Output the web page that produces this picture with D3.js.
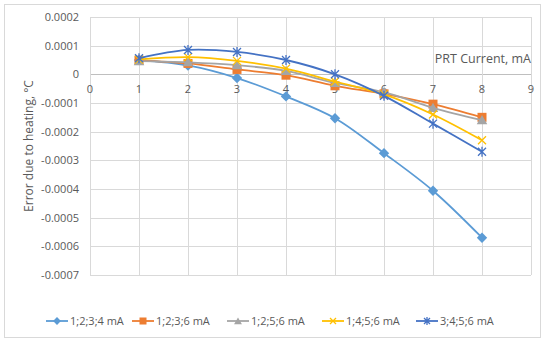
<!DOCTYPE html>
<html lang="en">
<head>
<meta charset="UTF-8">
<title>Error due to heating</title>
<script src="https://d3js.org/d3.v7.min.js"></script>
<style>
  body { margin: 0; background: #fff; }
  svg { font-family: "Open Sans", "Noto Sans", sans-serif; }
</style>
</head>
<body>
<svg id="chart" width="550" height="342"></svg>
<script>
// chart data
var currents = [1, 2, 3, 4, 5, 6, 7, 8];
var seriesNames = ["1;2;3;4 mA", "1;2;3;6 mA", "1;2;5;6 mA", "1;4;5;6 mA", "3;4;5;6 mA"];
var s1234 = [0.000050, 0.000031, -0.000013, -0.000077, -0.000153, -0.000275, -0.000406, -0.000570];
var s1236 = [0.000049, 0.000038, 0.000017, -0.000003, -0.000040, -0.000068, -0.000104, -0.000150];
var s1256 = [0.000046, 0.000042, 0.000032, 0.000012, -0.000030, -0.000062, -0.000117, -0.000160];
var s1456 = [0.000052, 0.000060, 0.000047, 0.000020, -0.000025, -0.000070, -0.000140, -0.000230];
var s3456 = [0.000056, 0.000085, 0.000078, 0.000050, 0.000000, -0.000075, -0.000172, -0.000270];
var xTicks = [0, 1, 2, 3, 4, 5, 6, 7, 8, 9];
var yTicks = [0.0002, 0.0001, 0, -0.0001, -0.0002, -0.0003, -0.0004, -0.0005, -0.0006, -0.0007];

var colors = ["#5B9BD5", "#ED7D31", "#A5A5A5", "#FFC000", "#4472C4"];
var shapes = ["diamond", "square", "triangle", "x", "star"];
var allSeries = [s1234, s1236, s1256, s1456, s3456];

var svg = d3.select("#chart");

// outer frame
svg.append("rect")
    .attr("x", 4.5).attr("y", 4.5)
    .attr("width", 536).attr("height", 333)
    .attr("fill", "#fff").attr("stroke", "#d9d9d9");

var x = d3.scaleLinear().domain([0, 9]).range([90, 531]);
var y = d3.scaleLinear().domain([-0.0007, 0.0002]).range([275, 17]);

// grid
svg.append("g").selectAll("line").data(yTicks).enter().append("line")
    .attr("x1", x(0)).attr("x2", x(9))
    .attr("y1", function(d) { return Math.round(y(d)) + 0.5; })
    .attr("y2", function(d) { return Math.round(y(d)) + 0.5; })
    .attr("stroke", function(d) { return d === 0 ? "#bfbfbf" : "#d9d9d9"; });

svg.append("g").selectAll("line").data(xTicks).enter().append("line")
    .attr("y1", y(0.0002)).attr("y2", y(-0.0007))
    .attr("x1", function(d) { return Math.round(x(d)) + 0.5; })
    .attr("x2", function(d) { return Math.round(x(d)) + 0.5; })
    .attr("stroke", "#d9d9d9");

// tick labels
svg.append("g").selectAll("text").data(yTicks).enter().append("text")
    .attr("x", 79).attr("y", function(d) { return y(d) + 4; })
    .attr("text-anchor", "end")
    .attr("font-size", 11).attr("fill", "#595959")
    .text(function(d) { return d === 0 ? "0" : d3.format(".4f")(d).replace("−", "-"); });

svg.append("g").selectAll("text").data(xTicks).enter().append("text")
    .attr("x", function(d) { return x(d); }).attr("y", y(0) + 19)
    .attr("text-anchor", "middle")
    .attr("font-size", 11).attr("fill", "#595959")
    .text(function(d) { return d; });

// axis titles
svg.append("text")
    .attr("transform", "translate(33," + ((y(0.0002) + y(-0.0007)) / 2) + ") rotate(-90)")
    .attr("text-anchor", "middle")
    .attr("font-size", 12).attr("fill", "#595959")
    .text("Error due to heating, °C");

svg.append("text")
    .attr("x", 531).attr("y", 63)
    .attr("text-anchor", "end")
    .attr("font-size", 12.5).attr("fill", "#595959")
    .text("PRT Current, mA");

// markers
function drawMarker(g, shape, color, cx, cy, s) {
    if (shape === "diamond") {
        var d = s * 0.65;
        g.append("path")
            .attr("d", "M" + cx + "," + (cy - d) + "L" + (cx + d) + "," + cy +
                       "L" + cx + "," + (cy + d) + "L" + (cx - d) + "," + cy + "Z")
            .attr("fill", color);
    } else if (shape === "square") {
        g.append("rect").attr("x", cx - s / 2 - 0.5).attr("y", cy - s / 2 - 0.5)
            .attr("width", s + 1).attr("height", s + 1).attr("fill", color);
    } else if (shape === "triangle") {
        g.append("path").attr("d", d3.symbol().type(d3.symbolTriangle).size(s * s * 0.75)())
            .attr("transform", "translate(" + cx + "," + (cy + 1) + ")").attr("fill", color);
    } else if (shape === "x") {
        var h = s / 2;
        g.append("path")
            .attr("d", "M" + (cx - h) + "," + (cy - h) + "L" + (cx + h) + "," + (cy + h) +
                       "M" + (cx - h) + "," + (cy + h) + "L" + (cx + h) + "," + (cy - h))
            .attr("stroke", color).attr("stroke-width", 1.3).attr("fill", "none");
    } else {
        var k = s / 2;
        g.append("path")
            .attr("d", "M" + (cx - k) + "," + (cy - k) + "L" + (cx + k) + "," + (cy + k) +
                       "M" + (cx - k) + "," + (cy + k) + "L" + (cx + k) + "," + (cy - k) +
                       "M" + cx + "," + (cy - k - 1) + "L" + cx + "," + (cy + k + 1))
            .attr("stroke", color).attr("stroke-width", 1.3).attr("fill", "none");
    }
}

var line = d3.line()
    .x(function(d, i) { return x(currents[i]); })
    .y(function(d) { return y(d); })
    .curve(d3.curveCatmullRom.alpha(0.5));

allSeries.forEach(function(vals, si) {
    var g = svg.append("g");
    g.append("path").datum(vals)
        .attr("d", line)
        .attr("fill", "none")
        .attr("stroke", colors[si])
        .attr("stroke-width", 1.8);
    vals.forEach(function(v, i) {
        drawMarker(g, shapes[si], colors[si], x(currents[i]), y(v), 8);
    });
});

// legend
var legendX = [46, 132, 227, 322, 416];
seriesNames.forEach(function(name, i) {
    var lg = svg.append("g").attr("transform", "translate(" + legendX[i] + ",321)");
    lg.append("line").attr("x1", 0).attr("x2", 22).attr("y1", 0).attr("y2", 0)
        .attr("stroke", colors[i]).attr("stroke-width", 1.8);
    drawMarker(lg, shapes[i], colors[i], 11, 0, 6);
    lg.append("text").attr("x", 24).attr("y", 4)
        .attr("font-size", 11).attr("fill", "#595959")
        .text(name);
});
</script>
</body>
</html>
